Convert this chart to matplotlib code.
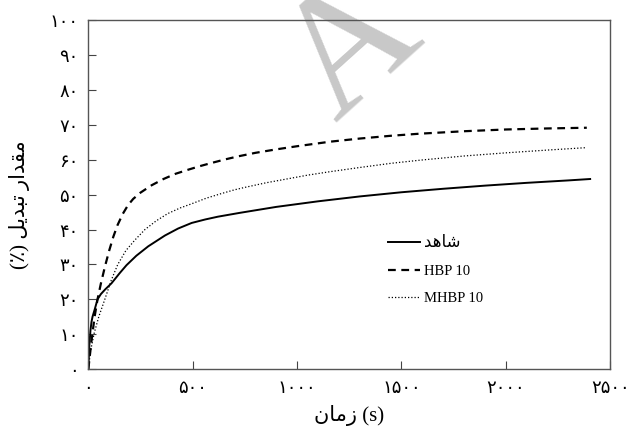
import matplotlib
matplotlib.use("Agg")
import matplotlib.pyplot as plt

# time (s) and conversion (%) for each sample
t_control = [0, 5, 10, 15, 20, 30, 44, 60, 80, 111, 150, 183, 230, 287, 367, 430,
             495, 560, 621, 726, 900, 1100, 1300, 1500, 1700, 1900, 2100, 2300, 2404]
y_control = [0, 7, 11, 13.5, 15, 17, 20, 21.5, 22.8, 24.6, 27.5, 29.8, 32.5, 35.2, 38.3, 40.3,
             41.9, 42.9, 43.7, 44.8, 46.5, 48.1, 49.5, 50.7, 51.7, 52.6, 53.4, 54.1, 54.5]

t_hbp = [0, 15, 30, 44, 60, 80, 100, 120, 140, 165, 190, 215, 250, 303, 360, 418, 480,
         535, 590, 654, 718, 800, 900, 1000, 1158, 1300, 1450, 1589, 1800, 2000, 2200, 2388]
y_hbp = [0, 8, 15, 20, 24.5, 29.5, 34, 38, 41.3, 44.5, 47, 48.8, 50.6, 52.7, 54.5, 56, 57.2,
         58.2, 59.1, 60.1, 61, 62, 63, 63.9, 65.2, 66.1, 66.9, 67.5, 68.2, 68.7, 69.0, 69.2]

t_mhbp = [0, 10, 28, 50, 79, 110, 141, 180, 223, 271, 325, 381, 440, 495, 565, 636, 700,
          750, 850, 950, 1050, 1158, 1300, 1450, 1589, 1800, 2000, 2200, 2388]
y_mhbp = [0, 5, 10.3, 15, 20, 25.5, 30, 34, 37, 40, 42.5, 44.6, 46.2, 47.4, 49, 50.3, 51.4,
          52.1, 53.4, 54.5, 55.6, 56.6, 57.8, 59, 59.9, 61.1, 62, 62.8, 63.5]

x_ticks = [0, 500, 1000, 1500, 2000, 2500]
y_ticks = list(range(0, 101, 10))

# Persian words written in visual (left-to-right) presentation forms
label_control = "\uFEAA\uFEEB\uFE8E\uFEB7"                       # شاهد
x_label = "\uFEE5\uFE8E\uFEE3\uFEAF (s)"                           # زمان (s)
y_label = "(\u066A) \uFEDE\uFEF3\uFEAA\uFE92\uFE97 \uFEAD\uFE8D\uFEAA\uFED8\uFEE3"  # مقدار تبدیل (٪)

FA_DIGITS = str.maketrans("0123456789", "\u06F0\u06F1\u06F2\u06F3\u06F4\u06F5\u06F6\u06F7\u06F8\u06F9")
MIXED = ["Liberation Serif", "DejaVu Sans"]


def fa(v):
    return str(v).translate(FA_DIGITS)


fig = plt.figure(figsize=(6.31, 4.42), dpi=100)
ax = fig.add_axes([0.140, 0.165, 0.827, 0.789])
ax.set_facecolor("none")

# faint watermark letter behind the axes
fig.text(354 / 631, 1 - 52 / 442, "A", fontsize=122, family="Liberation Serif",
         color="#c8c8c8", rotation=42, ha="center", va="center",
         rotation_mode="anchor", zorder=-1)

ax.plot(t_control, y_control, color="black", lw=1.4, ls="-", label=label_control)
ax.plot(t_hbp, y_hbp, color="black", lw=1.6, ls=(0, (3.5, 2.5)), label="HBP 10")
ax.plot(t_mhbp, y_mhbp, color="black", lw=0.9, ls=(0, (1, 1.6)), label="MHBP 10")

ax.set_xlim(0, 2500)
ax.set_ylim(0, 100)
ax.set_xticks(x_ticks)
ax.set_xticklabels([fa(v) for v in x_ticks], family="DejaVu Sans", fontsize=13)
ax.set_yticks(y_ticks)
ax.set_yticklabels([fa(v) for v in y_ticks], family="DejaVu Sans", fontsize=13)
ax.tick_params(direction="in", length=6, width=0.8, color="#444444", pad=7)

for s in ax.spines.values():
    s.set_color("#555555")
    s.set_linewidth(1.0)

ax.set_xlabel(x_label, family=MIXED, fontsize=15, labelpad=6)
ax.set_ylabel(y_label, family=MIXED, fontsize=15)
ax.yaxis.set_label_coords(-0.112, 0.47)

leg = ax.legend(loc="upper left", bbox_to_anchor=(0.575, 0.385), frameon=False,
                fontsize=10.5, handlelength=2.2, handletextpad=0.25,
                labelspacing=0.95, borderpad=0, borderaxespad=0)
for txt in leg.get_texts():
    txt.set_fontfamily(MIXED)
leg.get_texts()[0].set_fontsize(12)

fig.savefig("out.png", dpi=100)
